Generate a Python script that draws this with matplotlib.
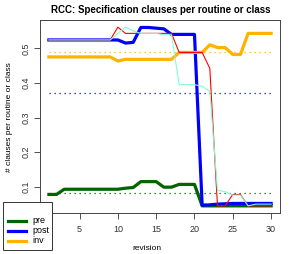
import matplotlib
matplotlib.use("Agg")
import matplotlib.pyplot as plt
from matplotlib.lines import Line2D
from matplotlib.patches import Rectangle

plt.rcParams['font.family'] = ['Liberation Sans', 'DejaVu Sans']

revision = list(range(1, 31))
pre = [0.078, 0.078, 0.093, 0.093, 0.093, 0.093, 0.093, 0.093, 0.093, 0.093,
       0.096, 0.098, 0.115, 0.115, 0.115, 0.099, 0.099, 0.107, 0.107, 0.107,
       0.045, 0.045, 0.045, 0.045, 0.045, 0.045, 0.045, 0.045, 0.045, 0.045]
post = [0.524, 0.524, 0.524, 0.524, 0.524, 0.524, 0.524, 0.524, 0.524, 0.524,
        0.515, 0.517, 0.560, 0.560, 0.558, 0.556, 0.540, 0.540, 0.540, 0.540,
        0.047, 0.048, 0.050, 0.051, 0.052, 0.052, 0.052, 0.052, 0.052, 0.052]
inv = [0.475, 0.475, 0.475, 0.475, 0.475, 0.475, 0.475, 0.475, 0.475, 0.463,
       0.468, 0.468, 0.468, 0.468, 0.468, 0.468, 0.468, 0.488, 0.488, 0.488,
       0.488, 0.510, 0.502, 0.502, 0.482, 0.482, 0.543, 0.543, 0.543, 0.543]
red_series = [0.524, 0.524, 0.524, 0.524, 0.524, 0.524, 0.524, 0.524, 0.524, 0.561,
              0.543, 0.543, 0.543, 0.543, 0.543, 0.543, 0.543, 0.488, 0.488, 0.488,
              0.488, 0.442, 0.045, 0.045, 0.078, 0.078, 0.045, 0.045, 0.045, 0.045]
aqua_series = [0.524, 0.524, 0.524, 0.524, 0.524, 0.524, 0.524, 0.524, 0.524, 0.543,
               0.561, 0.550, 0.543, 0.543, 0.543, 0.539, 0.539, 0.395, 0.395, 0.395,
               0.390, 0.376, 0.090, 0.086, 0.076, 0.076, 0.045, 0.050, 0.050, 0.050]
means = {"inv": 0.488, "post": 0.372, "pre": 0.081}
legend_labels = ['pre', 'post', 'inv']

GREEN, BLUE, ORANGE = '#006400', '#0000FF', '#FFB300'
legend_colors = [GREEN, BLUE, ORANGE]

W, H = 294, 254
fig = plt.figure(figsize=(W / 100, H / 100), dpi=100)
ax = fig.add_axes([40/W, 1-213/H, 240/W, 193/H])

thick = 2.3
thin = 0.8
ax.plot(revision, pre, color=GREEN, lw=thick, zorder=3)
ax.plot(revision, post, color=BLUE, lw=thick, zorder=3)
ax.plot(revision, inv, color=ORANGE, lw=thick, zorder=3)
ax.plot(revision, red_series, color='#FF0000', lw=thin, zorder=4)
ax.plot(revision, aqua_series, color='#7FFFD4', lw=thin, zorder=4)

dot = (0, (1, 3))
ax.plot([1, 30], [means["inv"]] * 2, color=ORANGE, lw=0.9, ls=dot, zorder=2)
ax.plot([1, 30], [means["post"]] * 2, color=BLUE, lw=0.9, ls=dot, zorder=2)
ax.plot([1, 30], [means["pre"]] * 2, color=GREEN, lw=0.9, ls=dot, zorder=2)

ax.set_xlim(-0.16, 31.16)
ax.set_ylim(0.0244, 0.5816)
ax.set_xticks([5, 10, 15, 20, 25, 30])
ax.set_yticks([0.1, 0.2, 0.3, 0.4, 0.5])
ax.set_yticklabels(['0.1', '0.2', '0.3', '0.4', '0.5'], rotation=90, va='center')
ax.tick_params(direction='out', length=4, width=0.6, labelsize=6.5, colors='#333333')
ax.tick_params(axis='x', pad=5)
ax.tick_params(axis='y', pad=3)
for s in ax.spines.values():
    s.set_linewidth(0.7)
    s.set_color('#444444')

fig.text(161/W, 1-10/H, 'RCC: Specification clauses per routine or class',
         ha='center', va='center', fontsize=7, fontweight='bold')
fig.text(147/W, 1-248/H, 'revision', ha='center', va='center', fontsize=6)
fig.text(10/W, 1-117/H, '# clauses per routine or class', ha='center', va='center',
         rotation=90, fontsize=6)

# legend box (R-style, bottom-left, overlapping the axes frame)
box = Rectangle((2.7/W, 1-249.5/H), (52.3-2.7)/W, (249.5-201.7)/H,
                transform=fig.transFigure, facecolor='white', edgecolor='#333333',
                lw=0.7, zorder=10)
fig.add_artist(box)
for i, (lab, col) in enumerate(zip(legend_labels, legend_colors)):
    yy = 1 - (220.7 + 10 * i) / H
    fig.add_artist(Line2D([8.3/W, 26/W], [yy, yy], color=col, lw=thick,
                          transform=fig.transFigure, zorder=11))
    fig.text(32.5/W, yy, lab, ha='left', va='center', fontsize=6.5, zorder=11)

fig.savefig('out.png', dpi=100)
